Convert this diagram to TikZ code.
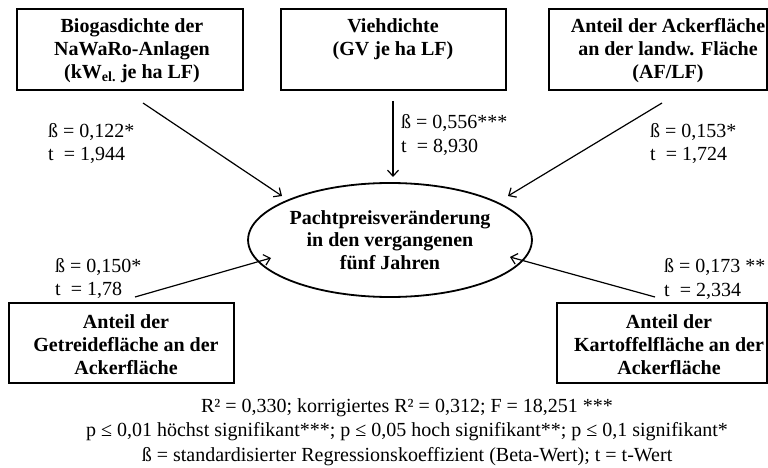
\documentclass[tikz,border=0pt]{standalone}
\usepackage{fontspec}
\setmainfont{Liberation Serif}
\usetikzlibrary{arrows.meta,shapes.geometric}
\tikzset{
  boxnode/.style={draw=black, line width=1.4pt, rectangle, inner sep=0pt, minimum height=81pt},
  boxtext/.style={align=center, inner sep=0pt, font=\bfseries\fontsize{20}{23}\selectfont},
  mainnode/.style={draw=black, line width=1.8pt, ellipse, inner sep=0pt, align=center,
    font=\bfseries\fontsize{20}{22.5}\selectfont, minimum width=230pt, minimum height=114pt},
  coef/.style={anchor=west, align=left, inner sep=0pt, font=\fontsize{20}{23.5}\selectfont},
  note/.style={align=center, inner sep=0pt, font=\fontsize{20}{24.5}\selectfont},
  arr/.style={line width=1.2pt, -{Straight Barb[length=6pt,width=11pt,line width=1.2pt]}}
}
\begin{document}
\begin{tikzpicture}[x=1pt,y=-1pt]
\useasboundingbox (0,0) rectangle (768,468);
% boxes
\node[boxnode, minimum width=226pt] (b1) at (130,49.5) {};
\node[boxtext] (t1) at (132,51) {Biogasdichte der\\NaWaRo-Anlagen\\(kW\textsubscript{el.} je ha LF)};
\node[boxnode, minimum width=225pt] (b2) at (393.5,49.5) {};
\node[boxtext, anchor=north] (t2) at (393,18) {Viehdichte\\(GV je ha LF)};
\node[boxnode, minimum width=218pt] (b3) at (658,49.5) {};
\node[boxtext] (t3) at (668,51) {Anteil der Ackerfläche\\an der landw. Fläche\\(AF/LF)};
\node[boxnode, minimum width=225pt, minimum height=80pt] (b4) at (121.5,343) {};
\node[boxtext] (t4) at (126,345) {Anteil der\\Getreidefläche an der\\Ackerfläche};
\node[boxnode, minimum width=210pt, minimum height=80pt] (b5) at (662,343) {};
\node[boxtext] (t5) at (669,345) {Anteil der\\Kartoffelfläche an der\\Ackerfläche};
% ellipse
\node[mainnode] (m) at (390,240) {Pachtpreisveränderung\\in den vergangenen\\fünf Jahren};
% arrow ends
\coordinate (s1) at (143,103); \coordinate (e1) at (282,196);
\coordinate (s2) at (393,101); \coordinate (e2) at (393,177);
\coordinate (s3) at (662,103); \coordinate (e3) at (508,196);
\coordinate (s4) at (135,297); \coordinate (e4) at (271,258);
\coordinate (s5) at (655,297); \coordinate (e5) at (510,257);
\draw[arr] (s1) -- (e1);
\draw[arr] (s2) -- (e2);
\draw[arr] (s3) -- (e3);
\draw[arr] (s4) -- (e4);
\draw[arr] (s5) -- (e5);
% coefficients
\node[coef] (c1) at (48,143.5) {ß = 0,122*\\t\ \ = 1,944};
\node[coef] (c2) at (401,135) {ß = 0,556***\\t\ \ = 8,930};
\node[coef] (c3) at (650,143.5) {ß = 0,153*\\t\ \ = 1,724};
\node[coef] (c4) at (55,278.5) {ß = 0,150*\\t\ \ = 1,78};
\node[coef] (c5) at (664,279) {ß = 0,173 **\\t\ \ = 2,334};
% notes
\node[note] (n) at (407,432) {R² = 0,330; korrigiertes R² = 0,312; F = 18,251 ***\\
p ≤ 0,01 höchst signifikant***; p ≤ 0,05 hoch signifikant**; p ≤ 0,1 signifikant*\\
ß = standardisierter Regressionskoeffizient (Beta-Wert); t = t-Wert};
\end{tikzpicture}
\end{document}
